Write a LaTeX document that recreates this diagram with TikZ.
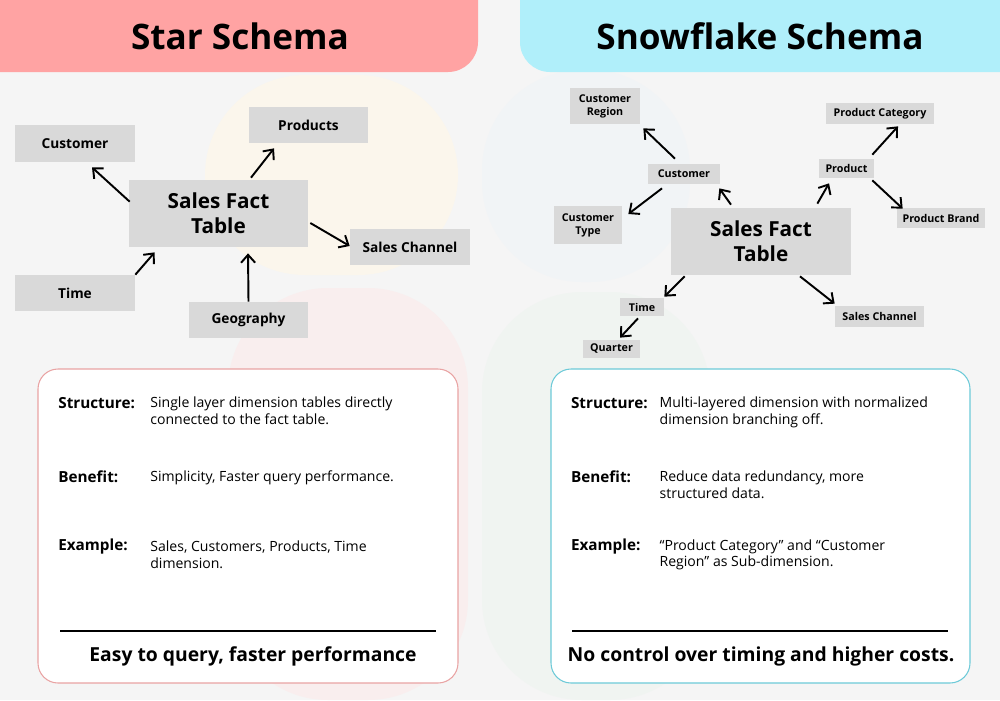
\documentclass[tikz,border=0pt]{standalone}
\usepackage{fontspec}
\setmainfont{Open Sans}
\usetikzlibrary{arrows.meta,calc}
\definecolor{starpink}{HTML}{FFA3A3}
\definecolor{snowcyan}{HTML}{B0EFFA}
\definecolor{dimgray}{HTML}{D9D9D9}
\definecolor{starline}{HTML}{E9A3A3}
\definecolor{snowline}{HTML}{6DCAD8}
\definecolor{pagegray}{HTML}{F5F5F5}
\definecolor{markyellow}{HTML}{FBF6EC}
\definecolor{markred}{HTML}{F9EEEE}
\definecolor{markblue}{HTML}{F1F4F6}
\definecolor{markgreen}{HTML}{F0F4F1}
\tikzset{
  dim node/.style={fill=dimgray,inner sep=0pt,align=center,
    font=\bfseries\fontsize{7.8}{10}\selectfont},
  small dim/.style={dim node,font=\bfseries\fontsize{6.1}{7.4}\selectfont},
  fact node/.style={dim node,font=\bfseries\fontsize{11.8}{14}\selectfont},
  link/.style={-{Straight Barb[length=4.5pt,width=8pt]},line width=1.1pt},
  title text/.style={inner sep=0pt,anchor=base,font=\bfseries\fontsize{20}{24}\selectfont},
  head/.style={inner sep=0pt,anchor=base west,font=\bfseries\fontsize{8.7}{11}\selectfont},
  body/.style={inner sep=0pt,anchor=base west,font=\fontsize{8}{9.4}\selectfont},
  foot/.style={inner sep=0pt,anchor=base,font=\bfseries\fontsize{11}{13}\selectfont}
}
\newcommand{\lines}[1]{\begin{tabular}[t]{@{}l@{}}#1\end{tabular}}
\begin{document}
\begin{tikzpicture}[x=0.02cm,y=-0.02cm]
\useasboundingbox (0,0) rectangle (1000,700);
\clip (0,0) rectangle (1000,700);
\fill[pagegray] (0,0) rectangle (1000,700);

% faint logo behind the diagrams
\fill[markyellow,rounded corners=2cm] (205,75) rectangle (458,275);
\fill[markred,rounded corners=2cm] (228,288) rectangle (468,700);
\fill[markblue,rounded corners=2cm] (482,70) rectangle (690,282);
\fill[markgreen,rounded corners=2cm] (482,292) rectangle (710,700);

% headers
\fill[starpink,rounded corners=0.6cm] (-50,-50) rectangle (478,72);
\fill[snowcyan,rounded corners=0.6cm] (520,-50) rectangle (1050,72);
\node[title text] (startitle) at (240,49) {Star Schema};
\node[title text] (snowtitle) at (760,49) {Snowflake Schema};

% star schema
\node[fact node,minimum width=3.58cm,minimum height=1.34cm] (fact) at (218.5,213.5) {Sales Fact\\Table};
\node[dim node,minimum width=2.4cm,minimum height=0.74cm] (cust) at (75,143.5) {Customer};
\node[dim node,minimum width=2.38cm,minimum height=0.72cm] (prod) at (308.5,125) {Products};
\node[dim node,minimum width=2.4cm,minimum height=0.72cm] (chan) at (410,247) {Sales Channel};
\node[dim node,minimum width=2.4cm,minimum height=0.72cm] (time) at (75,293) {Time};
\node[dim node,minimum width=2.38cm,minimum height=0.72cm] (geo) at (248.5,320) {Geography};

\draw[link] ($(fact.north west)+(1,22)$) -- ($(cust.south)+(17,5)$);
\draw[link] ($(fact.north)+(32.5,-2)$) -- ($(prod.south)+(-34.5,5)$);
\draw[link] ($(fact.east)+(2,9.5)$) -- ($(chan.west)+(0,-1)$);
\draw[link] (time.north east) -- ($(fact.south west)+(26,5)$);
\draw[link] (geo.north) -- ($(fact.south)+(29.5,6)$);

% snowflake schema
\node[fact node,minimum width=3.6cm,minimum height=1.34cm] (sfact) at (761,241.5) {Sales Fact\\Table};
\node[small dim,minimum width=1.4cm,minimum height=0.72cm] (sreg) at (605,106) {Customer\\Region};
\node[small dim,minimum width=1.44cm,minimum height=0.4cm] (scust) at (684,174) {Customer};
\node[small dim,minimum width=1.36cm,minimum height=0.76cm] (stype) at (588,225) {Customer\\Type};
\node[small dim,minimum width=1.1cm,minimum height=0.38cm] (sprod) at (846.5,168.5) {Product};
\node[small dim,minimum width=2.16cm,minimum height=0.42cm] (scat) at (880,113.5) {Product Category};
\node[small dim,minimum width=1.76cm,minimum height=0.4cm] (sbrand) at (941,218) {Product Brand};
\node[small dim,minimum width=0.88cm,minimum height=0.36cm] (stime) at (642,307) {Time};
\node[small dim,minimum width=1.14cm,minimum height=0.36cm] (squart) at (611.5,349) {Quarter};
\node[small dim,minimum width=1.78cm,minimum height=0.42cm] (schan) at (879.5,316.5) {Sales Channel};

\draw[link] ($(scust.north)+(-9,-5)$) -- ($(sreg.south east)+(3,4)$);
\draw[link] ($(scust.south)+(-22,4)$) -- ($(stype.east)+(6,-11)$);
\draw[link] ($(sfact.north)+(-30,-3)$) -- ($(scust.south east)+(-1,4)$);
\draw[link] ($(sfact.north east)+(-34,-4)$) -- ($(sprod.south)+(-17.5,5)$);
\draw[link] ($(sprod.north east)+(-2,-4)$) -- ($(scat.south)+(18,2)$);
\draw[link] ($(sprod.south east)+(-2,2)$) -- ($(sbrand.north west)+(6,1)$);
\draw[link] ($(sfact.south west)+(14,1)$) -- ($(stime.north east)+(0,-1)$);
\draw[link] ($(stime.south)+(-4,2)$) -- ($(squart.north)+(8.5,-2)$);
\draw[link] ($(sfact.south)+(39,1)$) -- ($(schan.north west)+(0,-2)$);

% info cards
\draw[starline,fill=white,line width=0.6pt,rounded corners=0.4cm] (38,369) rectangle (458,683);
\draw[snowline,fill=white,line width=0.6pt,rounded corners=0.4cm] (551,369) rectangle (970,683);

\node[head] (lstruct) at (58,408) {Structure:};
\node[body] (lstructtx) at (150,407.5) {\lines{Single layer dimension tables directly\\connected to the fact table.}};
\node[head] (lben) at (58,482) {Benefit:};
\node[body] (lbentx) at (150,481.7) {\lines{Simplicity, Faster query performance.}};
\node[head] (lex) at (58,550.7) {Example:};
\node[body] (lextx) at (150,551.7) {\lines{Sales, Customers, Products, Time\\dimension.}};
\draw[line width=0.6pt] (60,631) -- (436,631);
\node[foot] (lfoot) at (253,661.7) {Easy to query, faster performance};

\node[head] (rstruct) at (570.7,408) {Structure:};
\node[body] (rstructtx) at (659.3,407.7) {\lines{Multi-layered dimension with normalized\\dimension branching off.}};
\node[head] (rben) at (570.7,482) {Benefit:};
\node[body] (rbentx) at (659.3,481.7) {\lines{Reduce data redundancy, more\\structured data.}};
\node[head] (rex) at (570.7,550) {Example:};
\node[body] (rextx) at (659.3,550) {\lines{“Product Category” and “Customer\\Region” as Sub-dimension.}};
\draw[line width=0.6pt] (572,631) -- (948,631);
\node[foot] (rfoot) at (761,661.7) {No control over timing and higher costs.};
\end{tikzpicture}
\end{document}
